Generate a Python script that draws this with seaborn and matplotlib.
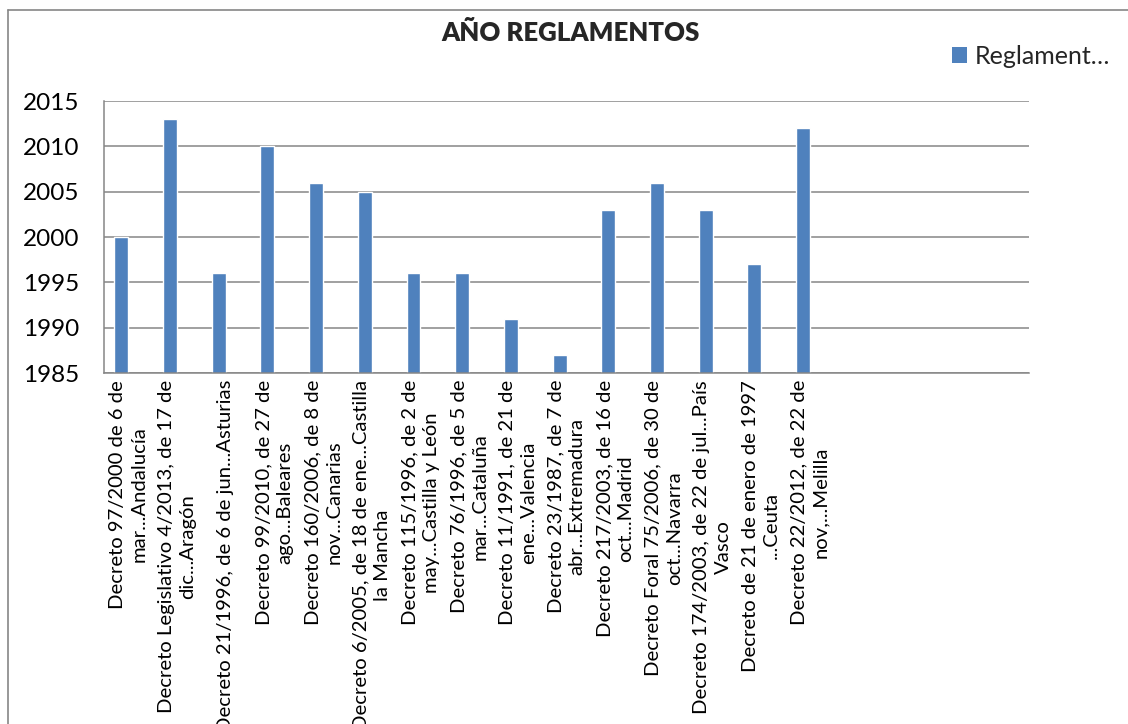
import matplotlib
matplotlib.use("Agg")
import matplotlib.pyplot as plt
from matplotlib.lines import Line2D
from matplotlib.patches import Patch
import numpy as np
import pandas as pd
import seaborn as sns

# Data
labels = [
    "Decreto 97/2000 de 6 de\nmar...Andalucía",
    "Decreto Legislativo 4/2013, de 17 de\ndic...Aragón",
    "Decreto 21/1996, de 6 de jun...Asturias",
    "Decreto 99/2010, de 27 de\nago...Baleares",
    "Decreto 160/2006, de 8 de\nnov...Canarias",
    "Decreto 6/2005, de 18 de ene...Castilla\nla Mancha",
    "Decreto 115/1996, de 2 de\nmay...Castilla y León",
    "Decreto 76/1996, de 5 de\nmar...Cataluña",
    "Decreto 11/1991, de 21 de\nene...Valencia",
    "Decreto 23/1987, de 7 de\nabr...Extremadura",
    "Decreto 217/2003, de 16 de\noct...Madrid",
    "Decreto Foral 75/2006, de 30 de\noct...Navarra",
    "Decreto 174/2003, de 22 de jul...País\nVasco",
    "Decreto de 21 de enero de 1997\n...Ceuta",
    "Decreto 22/2012, de 22 de\nnov,...Melilla",
    "", "", "", "",
]
years = [2000, 2013, 1996, 2010, 2006, 2005, 1996, 1996, 1991, 1987,
         2003, 2006, 2003, 1997, 2012, np.nan, np.nan, np.nan, np.nan]
series = ["Reglamentos", "Serie 2"]
yticks = [1985, 1990, 1995, 2000, 2005, 2010, 2015]

BLUE = "#4F81BD"
GRAY = "#868686"

sns.set_theme(style="white")
plt.rcParams["font.family"] = ["Lato", "DejaVu Sans"]

# one key per category slot (blank slots need unique keys)
keys = [f"c{i}" for i in range(len(labels))]
df = pd.DataFrame({
    "cat": keys * 2,
    "year": years + [np.nan] * len(years),
    "serie": [series[0]] * len(keys) + [series[1]] * len(keys),
})

W, H = 1128, 724
fig = plt.figure(figsize=(W / 100, H / 100), dpi=100)
ax = fig.add_axes([104 / W, 1 - 373 / H, (1029 - 104) / W, (373 - 101) / H])

sns.barplot(data=df, x="cat", y="year", hue="serie", order=keys,
            hue_order=series, palette=[BLUE, BLUE], width=0.5714,
            dodge=True, saturation=1, errorbar=None, legend=False, ax=ax)

ax.set_xlim(-0.5, len(keys) - 0.5)
ax.set_ylim(1985, 2015)
ax.set_yticks(yticks)
ax.set_yticklabels([str(t) for t in yticks], fontsize=17.5)
ax.set_xticks(range(len(keys)))
ax.set_xticklabels(labels, rotation=90, ha="center", va="top",
                   multialignment="center", fontsize=14.6, linespacing=1.3)
ax.set_xlabel("")
ax.set_ylabel("")
ax.tick_params(axis="y", length=0, pad=18, colors="black")
ax.tick_params(axis="x", length=0, pad=5, colors="black")

ax.yaxis.grid(True, color=GRAY, linewidth=1.1)
ax.set_axisbelow(True)
for side in ["top", "right"]:
    ax.spines[side].set_visible(False)
for side in ["left", "bottom"]:
    ax.spines[side].set_color(GRAY)
    ax.spines[side].set_linewidth(1.1)

fig.text(571 / W, 1 - 33 / H, "AÑO REGLAMENTOS", ha="center", va="center",
         fontsize=18.5, fontweight="heavy")

fig.legend(handles=[Patch(facecolor=BLUE, edgecolor="none")],
           labels=["Reglament…"], loc="center left",
           bbox_to_anchor=(952 / W, 1 - 56 / H), frameon=False, fontsize=18,
           handlelength=0.6, handleheight=0.6, handletextpad=0.3,
           borderpad=0, borderaxespad=0)

# chart area border (bottom and right run off the image)
fig.add_artist(Line2D([8 / W, 8 / W], [0, 1 - 10 / H], transform=fig.transFigure,
                      color=GRAY, linewidth=1.2))
fig.add_artist(Line2D([8 / W, 1], [1 - 10 / H, 1 - 10 / H], transform=fig.transFigure,
                      color=GRAY, linewidth=1.2))

fig.savefig("out.png", dpi=100)
